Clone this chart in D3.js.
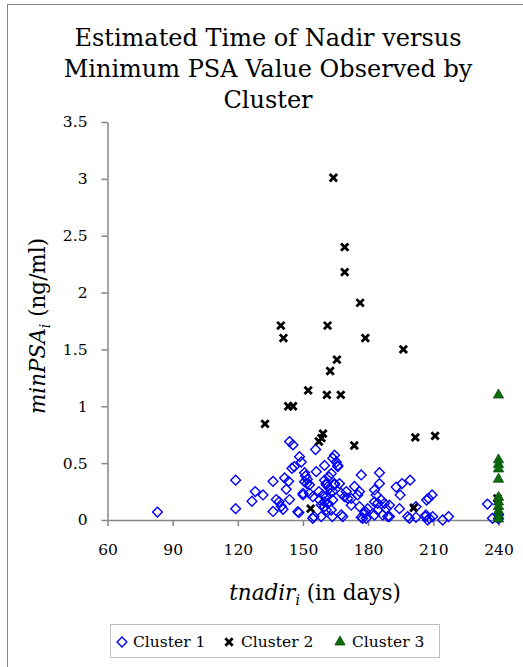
<!DOCTYPE html>
<html>
<head>
<meta charset="utf-8">
<script src="https://cdn.jsdelivr.net/npm/d3@7"></script>
<style>
  body { margin: 0; background: #fff; }
  text { font-family: "DejaVu Serif", serif; fill: #000; }
</style>
</head>
<body>
<script>
var width = 523,
    height = 667;
var serif = '"DejaVu Serif", serif';

// data: [tnadir (days), minPSA (ng/ml)]
var cluster1 = [
    [83, 0.07], [119, 0.35], [119, 0.10], [126.5, 0.165], [128, 0.25], [131.6, 0.22],
    [136.2, 0.075], [136.2, 0.34], [137.7, 0.18], [139, 0.16],
    [140, 0.12], [140.8, 0.094], [141.5, 0.37], [142.3, 0.27], [143.4, 0.34], [143.8, 0.18],
    [143.8, 0.69], [145.4, 0.66], [144.9, 0.455], [146, 0.47], [148.4, 0.557], [149.2, 0.51],
    [150.7, 0.416], [147.6, 0.073], [150, 0.22], [150.7, 0.337], [152, 0.358], [153, 0.31],
    [155.8, 0.62], [156.1, 0.425], [155, 0.03], [148.1, 0.064], [151.2, 0.387], [151.8, 0.32],
    [150, 0.235], [153, 0.235], [154.5, 0.205], [154.5, 0.015], [157.3, 0.25], [157.6, 0.176],
    [158.4, 0.132], [159.9, 0.48], [160.7, 0.32], [160.7, 0.205], [161.9, 0.38], [162.2, 0.28],
    [162.5, 0.235], [163.7, 0.543], [164.5, 0.57], [166, 0.48], [163, 0.41], [164.5, 0.32],
    [163.7, 0.176], [159.9, 0.117], [160.7, 0.088], [163.5, 0.03], [167.6, 0.044], [166.8, 0.32],
    [167.6, 0.235], [169.1, 0.205], [172.2, 0.19], [173.7, 0.295], [176, 0.25], [176.8, 0.396],
    [176, 0.117], [177.5, 0.015], [178.8, 0.073],
    [165.3, 0.51], [166, 0.47], [159.9, 0.35], [160.7, 0.31], [164.5, 0.31], [163.7, 0.25],
    [159.1, 0.22], [159.9, 0.16], [161.4, 0.147], [163, 0.088], [158.4, 0.03], [175.2, 0.22],
    [170.6, 0.19], [172.2, 0.13], [169.9, 0.25], [168.3, 0.03],
    [185.2, 0.416], [185.2, 0.32], [182.9, 0.264], [183.7, 0.22], [182.9, 0.16], [184.4, 0.147],
    [186, 0.176], [187.5, 0.147], [188.3, 0.10], [184.4, 0.088], [182.9, 0.044], [186.7, 0.044],
    [189, 0.03], [179.8, 0.10], [178.3, 0.059], [176.8, 0.024], [179.1, 0.015],
    [192.9, 0.29], [195.6, 0.32], [199.3, 0.35], [194.7, 0.22], [194.4, 0.10], [198.2, 0.03],
    [202, 0.024], [206.9, 0.176], [206.3, 0.03], [207.4, 0.0],
    [189.8, 0.13], [189.8, 0.03], [199, 0.015], [202, 0.117], [206.6, 0.044], [208.2, 0.015],
    [209.7, 0.03], [207.8, 0.19], [209.4, 0.22], [214.3, 0.0], [217, 0.03],
    [234.9, 0.14], [237.2, 0.015], [240, 0.044], [240, 0.01]
];
var cluster2 = [
    [164, 3.01], [169.2, 2.40], [169.2, 2.18], [176.3, 1.91], [139.8, 1.71], [141, 1.60],
    [161.3, 1.71], [178.7, 1.60], [196.2, 1.50], [165.6, 1.41], [162.5, 1.31], [152.4, 1.14],
    [161, 1.10], [167.4, 1.10], [143.2, 1.0], [145.4, 1.0], [132.5, 0.845], [157.3, 0.69],
    [158.5, 0.72], [159.2, 0.76], [173.6, 0.655], [201.7, 0.727], [210.8, 0.74],
    [201, 0.108], [153.5, 0.10], [239.5, 0.19]
];
var cluster3Days = 240;
var cluster3Psa = [1.09, 0.52, 0.48, 0.44, 0.35, 0.19, 0.15, 0.11, 0.07, 0.03, 0.0];

var xTicks = [60, 90, 120, 150, 180, 210, 240];
var yTicks = [0, 0.5, 1, 1.5, 2, 2.5, 3, 3.5];
var legendLabels = ["Cluster 1", "Cluster 2", "Cluster 3"];
var titleLines = ["Estimated Time of Nadir versus", "Minimum PSA Value Observed by", "Cluster"];

var blue = "#0000ff", green = "#0a6e0a", axisGrey = "#868686";

var svg = d3.select("body").append("svg")
    .attr("width", width)
    .attr("height", height);

// chart border
svg.append("rect")
    .attr("x", 7.5).attr("y", 4.5)
    .attr("width", width + 10).attr("height", height + 10)
    .attr("fill", "none").attr("stroke", axisGrey).attr("stroke-width", 1);

// title
svg.append("g").selectAll("text")
    .data(titleLines)
    .join("text")
    .attr("x", 268)
    .attr("y", function (d, i) { return 46 + i * 31; })
    .attr("text-anchor", "middle")
    .style("font-size", "24px")
    .text(function (d) { return d; });

var x = d3.scaleLinear().domain([60, 240]).range([107.5, 498.5]);
var y = d3.scaleLinear().domain([0, 3.5]).range([520, 122]);

var xAxis = svg.append("g")
    .attr("transform", "translate(0,520)")
    .call(d3.axisBottom(x).tickValues(xTicks).tickSizeInner(6).tickSizeOuter(0).tickPadding(18));
var yAxis = svg.append("g")
    .attr("transform", "translate(107.5,0)")
    .call(d3.axisLeft(y).tickValues(yTicks).tickSizeInner(6).tickSizeOuter(0).tickPadding(14)
        .tickFormat(function (d) { return d === 0 ? "0" : String(d); }));
[xAxis, yAxis].forEach(function (a) {
    a.attr("font-family", serif);
    a.select(".domain").attr("stroke", axisGrey).attr("stroke-width", 1.5);
    a.selectAll(".tick line").attr("stroke", axisGrey).attr("stroke-width", 1.5);
    a.selectAll(".tick text")
        .style("font-family", serif)
        .style("font-size", "15.5px")
        .attr("fill", "#000");
});

// x mark symbol
var symbolCross = {
    draw: function (context, size) {
        var r = Math.sqrt(size) / 2;
        context.moveTo(-r, -r); context.lineTo(r, r);
        context.moveTo(r, -r); context.lineTo(-r, r);
    }
};
var diamond = d3.symbol(d3.symbolSquare, 48);
var cross = d3.symbol(symbolCross, 54);
var triangle = d3.symbol(d3.symbolTriangle, 46);

var plot = svg.append("g");
plot.append("g").selectAll("path")
    .data(cluster1)
    .join("path")
    .attr("d", diamond)
    .attr("transform", function (d) { return "translate(" + x(d[0]) + "," + y(d[1]) + ") rotate(45)"; })
    .attr("fill", "none")
    .attr("stroke", blue)
    .attr("stroke-width", 1.4);

plot.append("g").selectAll("path")
    .data(cluster2)
    .join("path")
    .attr("d", cross)
    .attr("transform", function (d) { return "translate(" + x(d[0]) + "," + y(d[1]) + ")"; })
    .attr("fill", "none")
    .attr("stroke", "#000")
    .attr("stroke-width", 2.8);

plot.append("g").selectAll("path")
    .data(cluster3Psa)
    .join("path")
    .attr("d", triangle)
    .attr("transform", function (d) { return "translate(" + x(cluster3Days) + "," + (y(d) - 1) + ")"; })
    .attr("fill", green)
    .attr("stroke", "#064a06")
    .attr("stroke-width", 0.8);

// axis titles
var xt = svg.append("text")
    .attr("x", 315).attr("y", 600)
    .attr("text-anchor", "middle")
    .style("font-size", "21.5px");
xt.append("tspan").style("font-style", "italic").text("tnadir");
xt.append("tspan").style("font-style", "italic").style("font-size", "14px").attr("dy", 5).text("i");
xt.append("tspan").attr("dy", -5).text(" (in days)");

var yt = svg.append("text")
    .attr("transform", "translate(45,326) rotate(-90)")
    .attr("text-anchor", "middle")
    .style("font-size", "21.5px");
yt.append("tspan").style("font-style", "italic").text("minPSA");
yt.append("tspan").style("font-style", "italic").style("font-size", "14px").attr("dy", 5).text("i");
yt.append("tspan").attr("dy", -5).text(" (ng/ml)");

// legend
var legend = svg.append("g");
legend.append("rect")
    .attr("x", 110.5).attr("y", 624.5)
    .attr("width", 329).attr("height", 33)
    .attr("fill", "#fff").attr("stroke", "#bfbfbf");
var legendX = [122, 229, 340];
var legendTextX = [133, 241, 352];
var legendSymbols = [diamond, cross, triangle];
legendLabels.forEach(function (label, i) {
    var sym = legend.append("path")
        .attr("d", legendSymbols[i])
        .attr("transform", "translate(" + legendX[i] + ",642)" + (i === 0 ? " rotate(45)" : ""));
    if (i === 0) sym.attr("fill", "none").attr("stroke", blue).attr("stroke-width", 1.4);
    if (i === 1) sym.attr("fill", "none").attr("stroke", "#000").attr("stroke-width", 2.8);
    if (i === 2) sym.attr("fill", green).attr("stroke", "#064a06").attr("stroke-width", 0.8);
    legend.append("text")
        .attr("x", legendTextX[i]).attr("y", 647)
        .style("font-size", "15.5px")
        .text(label);
});
</script>
</body>
</html>
